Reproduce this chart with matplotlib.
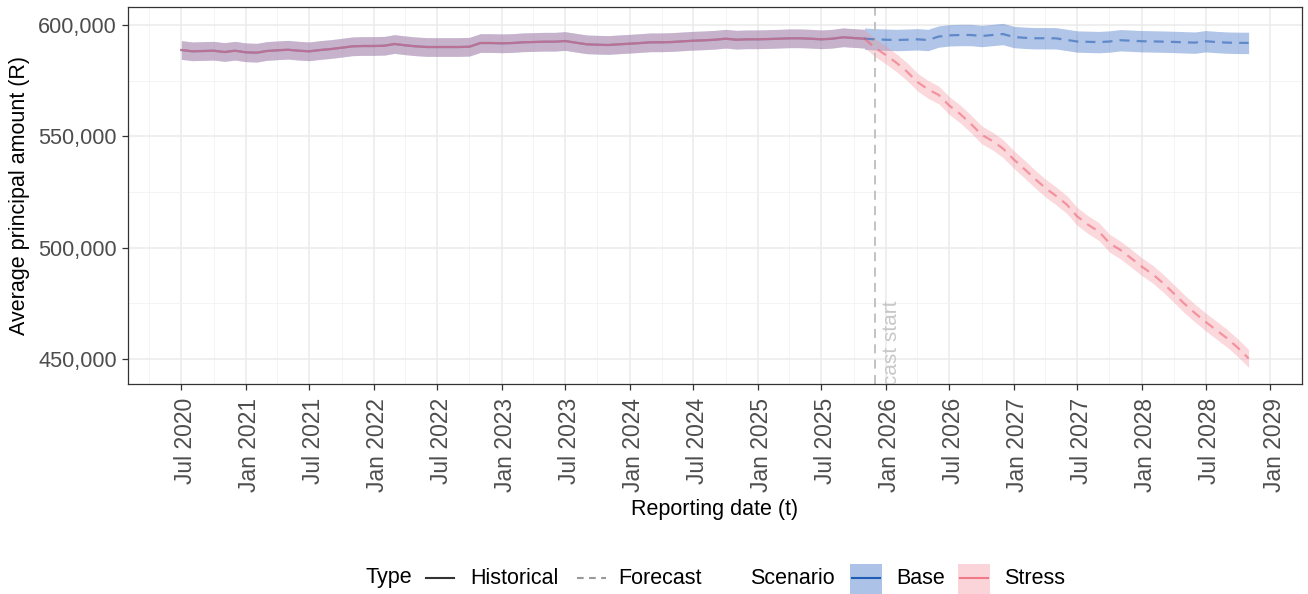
import numpy as np
import pandas as pd
import matplotlib
matplotlib.use('Agg')
import matplotlib.pyplot as plt
import matplotlib.dates as mdates
import matplotlib.ticker as mticker
from matplotlib.lines import Line2D
from matplotlib.patches import Rectangle
from matplotlib.transforms import offset_copy, ScaledTranslation

plt.rcParams['font.family'] = ['Liberation Sans', 'DejaVu Sans']

# ---- data ----
hist_dates = pd.date_range('2020-07-01', '2025-11-01', freq='MS')
hist_values = [588770, 588190, 588320, 588460, 587870, 588460, 587740, 587560, 588320, 588640,
               588900, 588460, 588190, 588770, 589220, 589800, 590430, 590570, 590570, 590700,
               591470, 590880, 590430, 590120, 590120, 590120, 590120, 590250, 591910, 591910,
               591780, 591910, 592230, 592360, 592500, 592500, 592810, 592050, 591330, 591150,
               591020, 591330, 591600, 591910, 592230, 592230, 592360, 592680, 592950, 593130,
               593400, 593850, 593400, 593580, 593580, 593710, 593850, 594030, 594030, 593850,
               593580, 593850, 594480, 594160, 593850]

fc_dates = pd.date_range('2025-11-01', '2028-11-01', freq='MS')
base_values = [593850, 593580, 593400, 593260, 593400, 593580, 593260, 594830, 595370, 595510,
               595510, 595060, 595510, 595960, 594610, 594250, 594070, 594070, 594030, 593310,
               592590, 592450, 592320, 592590, 593170, 592950, 592720, 592630, 592540, 592410,
               592230, 592090, 592720, 592360, 592090, 592000, 591960]
stress_values = [593850, 589800, 586520, 582930, 579250, 574400, 571120, 568560, 563790, 560020,
                 555530, 550680, 547890, 544520, 539580, 535180, 531050, 526780, 523280, 519370,
                 513980, 510250, 507150, 501980, 498930, 495340, 491430, 488060, 484150, 479480,
                 474850, 470540, 466630, 462900, 459180, 455000, 450190]

# half widths of the uncertainty ribbons
hist_band = 4200
base_band = 4800
stress_band = 4000

forecast_start = pd.Timestamp('2025-12-01')

base_fill = '#3a6fc4'
stress_fill = '#f4909c'
base_line = '#2c62b8'
stress_line = '#ee6677'

W, H = 1308, 594
fig = plt.figure(figsize=(W / 100, H / 100), dpi=100)
ax = fig.add_axes([128 / W, 1 - 384 / H, (1302 - 128) / W, (384 - 7) / H])

hist = np.array(hist_values)
base = np.array(base_values)
stress = np.array(stress_values)

# ribbons: history is shared by both scenarios, so it gets both fills
ax.fill_between(hist_dates, hist - hist_band, hist + hist_band, color=base_fill, alpha=0.4, lw=0, zorder=2)
ax.fill_between(fc_dates, base - base_band, base + base_band, color=base_fill, alpha=0.4, lw=0, zorder=2)
ax.fill_between(hist_dates, hist - hist_band, hist + hist_band, color=stress_fill, alpha=0.35, lw=0, zorder=2)
ax.fill_between(fc_dates, stress - stress_band, stress + stress_band, color=stress_fill, alpha=0.35, lw=0, zorder=2)

# lines
ax.plot(hist_dates, hist, color=base_line, alpha=0.6, lw=1.6, zorder=3)
ax.plot(hist_dates, hist, color=stress_line, alpha=0.6, lw=1.6, zorder=3)
ax.plot(fc_dates, base, color=base_line, alpha=0.6, lw=1.6, dashes=(4.5, 3.2), zorder=3)
ax.plot(fc_dates, stress, color=stress_line, alpha=0.6, lw=1.6, dashes=(4.5, 3.2), zorder=3)

# forecast start marker (label runs off the bottom of the panel, as in the original)
ax.axvline(forecast_start, color='#bdbdbd', lw=1.3, dashes=(5, 3.5), zorder=2.5)
ax.text(forecast_start, 418970, 'Forecast start', rotation=90, rotation_mode='anchor',
        ha='left', va='baseline', color='#c8c8c8', fontsize=15,
        transform=offset_copy(ax.transData, fig=fig, x=22, y=0, units='dots'), clip_on=True)

# axes scales
x0, x1 = hist_dates[0], fc_dates[-1]
span = x1 - x0
ax.set_xlim(x0 - span * 0.05, x1 + span * 0.05)
ax.set_ylim(438700, 608100)

ax.xaxis.set_major_locator(mdates.MonthLocator(bymonth=[1, 7]))
ax.xaxis.set_minor_locator(mdates.MonthLocator(bymonth=[4, 10]))
ax.xaxis.set_major_formatter(mdates.DateFormatter('%b %Y'))
ax.yaxis.set_major_locator(mticker.MultipleLocator(50000))
ax.yaxis.set_minor_locator(mticker.MultipleLocator(25000))
ax.yaxis.set_major_formatter(mticker.FuncFormatter(lambda v, p: f'{v:,.0f}'))

ax.grid(which='major', color='#ebebeb', lw=1.1, zorder=0)
ax.grid(which='minor', color='#f2f2f2', lw=0.6, zorder=0)
ax.set_axisbelow(True)
for s in ax.spines.values():
    s.set_color('#333333')
    s.set_linewidth(0.9)

ax.tick_params(which='major', length=4, width=0.9, color='#333333', labelcolor='#4d4d4d')
ax.tick_params(axis='y', labelsize=15.7, pad=4)
ax.tick_params(axis='x', labelsize=16.5, pad=6)
ax.tick_params(which='minor', length=0)
nudge = ScaledTranslation(4 / 100, 0, fig.dpi_scale_trans)
for lab in ax.get_xticklabels():
    lab.set_rotation(90)
    lab.set_ha('center')
    lab.set_va('top')
    lab.set_transform(lab.get_transform() + nudge)

ax.set_xlabel('Reporting date (t)', fontsize=15.5, labelpad=5)
ax.set_ylabel('Average principal amount (R)', fontsize=15.5, labelpad=6)

# ---- legend (drawn by hand, ggplot style, one row) ----
def fx(px):
    return px / W

def fy(py):
    return 1 - py / H

ly = 578
fs = 15.5
fig.text(fx(366), fy(ly), 'Type', fontsize=fs, va='center', ha='left')
fig.add_artist(Line2D([fx(426), fx(454)], [fy(ly)] * 2, color='#333333', lw=1.5, transform=fig.transFigure))
fig.text(fx(470), fy(ly), 'Historical', fontsize=fs, va='center', ha='left')
fig.add_artist(Line2D([fx(577), fx(606)], [fy(ly)] * 2, color='#999999', lw=1.5, dashes=(3.2, 2.6),
                      transform=fig.transFigure))
fig.text(fx(618), fy(ly), 'Forecast', fontsize=fs, va='center', ha='left')

fig.text(fx(750), fy(ly), 'Scenario', fontsize=fs, va='center', ha='left')
fig.add_artist(Rectangle((fx(850), fy(596)), fx(32), 32 / H, color=base_fill, alpha=0.42, lw=0,
                         transform=fig.transFigure))
fig.add_artist(Line2D([fx(852), fx(880)], [fy(ly)] * 2, color='#1f5cb5', lw=1.5, transform=fig.transFigure))
fig.text(fx(896), fy(ly), 'Base', fontsize=fs, va='center', ha='left')
fig.add_artist(Rectangle((fx(958), fy(596)), fx(32), 32 / H, color=stress_fill, alpha=0.38, lw=0,
                         transform=fig.transFigure))
fig.add_artist(Line2D([fx(960), fx(988)], [fy(ly)] * 2, color='#f07a88', lw=1.5, transform=fig.transFigure))
fig.text(fx(1004), fy(ly), 'Stress', fontsize=fs, va='center', ha='left')

fig.savefig('out.png', dpi=100)
